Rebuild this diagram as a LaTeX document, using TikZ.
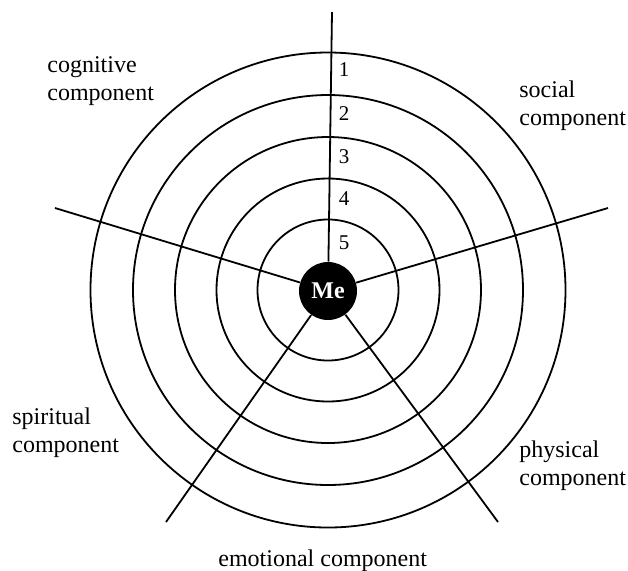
\documentclass[tikz,border=0pt]{standalone}
\usepackage{fontspec}
\setmainfont{Liberation Serif}
\begin{document}
\begin{tikzpicture}[x=0.5pt,y=-0.5pt,
  ring/.style={draw=black,line width=0.9pt},
  spoke/.style={draw=black,line width=0.9pt},
  lbl/.style={font=\fontsize{12}{14}\selectfont,align=left,anchor=base west,inner sep=0pt},
  num/.style={font=\fontsize{10.5}{12}\selectfont,anchor=base,inner sep=0pt},
  menode/.style={circle,fill=black,minimum size=29pt,inner sep=0pt,text=white,font=\fontsize{12}{14}\selectfont\bfseries}]
\useasboundingbox (0,0) rectangle (628,570);
\coordinate (c) at (328,290);
\foreach \r/\n in {70.5/r5,111.5/r4,153/r3,195/r2,237.5/r1}
  \draw[ring] (c) circle[radius=\r];
\node[menode] (me) at (328,291) {Me};
\coordinate (top) at (332,12);
\coordinate (left) at (55,208);
\coordinate (right) at (608,208);
\coordinate (ll) at (166,522);
\coordinate (lr) at (498,522);
\draw[spoke] (me) -- (top);
\draw[spoke] (me) -- (left);
\draw[spoke] (me) -- (right);
\draw[spoke] (me) -- (ll);
\draw[spoke] (me) -- (lr);
\node[num] (n1) at (344,76) {1};
\node[num] (n2) at (344,120) {2};
\node[num] (n3) at (344,163) {3};
\node[num] (n4) at (344,205) {4};
\node[num] (n5) at (344,249) {5};
\node[lbl] (cog) at (47,100) {cognitive\\component};
\node[lbl] (soc) at (519,125) {social\\component};
\node[lbl] (spi) at (12,452) {spiritual\\component};
\node[lbl] (phy) at (519,485) {physical\\component};
\node[lbl] (emo) at (218,566) {emotional component};
\end{tikzpicture}
\end{document}
